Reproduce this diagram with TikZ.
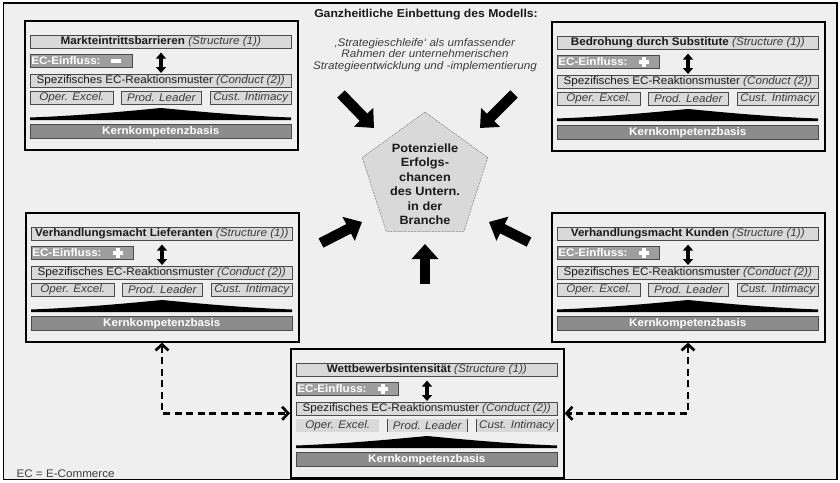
\documentclass[tikz,border=0pt]{standalone}
\usepackage{fontspec}
\setmainfont{Liberation Sans}[FakeStretch=1.06]
\usetikzlibrary{arrows.meta,shapes.geometric,calc}

\definecolor{paper}{HTML}{EFEFEF}
\definecolor{barlight}{HTML}{D9D9D9}
\definecolor{barmid}{HTML}{9E9E9E}
\definecolor{bardark}{HTML}{8C8C8C}
\definecolor{edge}{HTML}{4A4A4A}
\definecolor{ink}{HTML}{1A1A1A}
\definecolor{softink}{HTML}{3C3C3C}

\tikzset{
  panel/.style={draw=black, line width=1.6pt, fill=paper, anchor=north west,
    minimum width=273pt, minimum height=129pt, inner sep=0pt},
  titlebar/.style={draw=edge, line width=0.6pt, fill=barlight, anchor=north west,
    minimum width=261pt, minimum height=13pt, inner sep=0pt, text=ink,
    font=\fontsize{11}{12}\selectfont},
  ecbar/.style={draw=edge, line width=0.6pt, fill=barmid, anchor=north west,
    text width=100pt, align=left, inner xsep=1pt, inner ysep=0pt,
    minimum height=13pt, text=white, font=\bfseries\fontsize{11}{12}\selectfont},
  triobox/.style={draw=edge, line width=0.6pt, fill=barlight, anchor=north west,
    minimum height=13pt, inner sep=0pt, text=softink,
    font=\itshape\fontsize{11}{12}\selectfont},
  triolight/.style={fill=barlight, anchor=north west,
    minimum height=13pt, inner sep=0pt, text=softink,
    font=\itshape\fontsize{11}{12}\selectfont},
  kernbar/.style={draw=edge, line width=0.6pt, fill=bardark, anchor=north west,
    minimum width=261pt, minimum height=14pt, inner sep=0pt, text=white,
    font=\bfseries\fontsize{11}{12}\selectfont},
  updown/.style={line width=3.2pt, black,
    {Triangle[length=6pt,width=10pt]}-{Triangle[length=6pt,width=10pt]},
    shorten <=4pt, shorten >=1pt},
  blockarrow/.style={line width=10.5pt, black, -{Triangle[length=15pt,width=26pt]}},
  dashlink/.style={line width=2.7pt, black, dash pattern=on 7pt off 4.5pt,
    {Straight Barb[length=6pt,width=13pt]}-{Straight Barb[length=6pt,width=13pt]}},
}

% white sign inside the EC bar of a panel
\newcommand{\ecminus}{\fill[white] (87,39) rectangle (97,42.5);}
\newcommand{\ecplus}{%
  \fill[white] (88,39) rectangle (98,42.5);
  \fill[white] (91.25,35.75) rectangle (94.75,45.75);}

% one competitive force panel: name, x, y, force, sign, style of the three strategy boxes
\newcommand{\forcepanel}[6]{%
  \begin{scope}[shift={(#2,#3)}]
    \node[panel] (#1) at (0,0) {};
    \node[titlebar] (#1-title) at (6,15)
      {\textbf{#4} \textit{\color{softink}(Structure (1))}};
    \node[ecbar] (#1-ec) at (6,34) {EC-Einfluss:};
    #5
    \node[titlebar] (#1-spez) at (6,54)
      {Spezifisches EC-Reaktionsmuster \textit{\color{softink}(Conduct (2))}};
    \node[#6, minimum width=83pt] (#1-oe) at (6,71) {Oper. Excel.};
    \node[#6, minimum width=80pt] (#1-pl) at (97,71) {Prod. Leader};
    \node[#6, minimum width=81pt] (#1-ci) at (186,71) {Cust. Intimacy};
    \fill[black] (6,100) -- (6,97.5)
      .. controls (60,95.5) and (105,91) .. (137,88)
      .. controls (169,91) and (214,95.5) .. (267,97.5) -- (267,100) -- cycle;
    \node[kernbar] (#1-kern) at (6,104) {Kernkompetenzbasis};
    \coordinate (#1-axis) at (137,0);
    \draw[updown] (#1-axis |- #1-title.south) -- (#1-axis |- #1-spez.north);
  \end{scope}}

\begin{document}
\begin{tikzpicture}[x=1pt, y=-1pt]
  \useasboundingbox (0,0) rectangle (840,482);
  \fill[white] (0,0) rectangle (840,482);
  \draw[line width=1.8pt, fill=paper] (3.5,3) rectangle (837,479.5);

  % heading and framing text
  \node[font=\bfseries\fontsize{11.5}{13}\selectfont, text=ink] (head) at (426,15)
    {Ganzheitliche Einbettung des Modells:};
  \node[font=\itshape\fontsize{11}{11.3}\selectfont, text=softink, align=center] (loop) at (425,55)
    {‚Strategieschleife‘ als umfassender\\Rahmen der unternehmerischen\\Strategieentwicklung und -implementierung};

  % the five forces
  \forcepanel{markt}{24}{20}{Markteintrittsbarrieren}{\ecminus}{triobox}
  \forcepanel{subst}{551}{21}{Bedrohung durch Substitute}{\ecplus}{triobox}
  \forcepanel{lief}{25}{212}{Verhandlungsmacht Lieferanten}{\ecplus}{triobox}
  \forcepanel{kund}{551}{212}{Verhandlungsmacht Kunden}{\ecplus}{triobox}
  \forcepanel{wett}{290}{348}{Wettbewerbsintensität}{\ecplus}{triolight}
  \draw[edge, line width=0.6pt] (wett-pl.north west) -- (wett-pl.south west)
    (wett-pl.north east) -- (wett-pl.south east)
    (wett-ci.north west) -- (wett-ci.south west)
    (wett-ci.north east) -- (wett-ci.south east)
    (wett-ec.north east) -- (wett-ec.south east);

  % central goal
  \node[regular polygon, regular polygon sides=5, minimum size=132pt, inner sep=0pt,
        fill=barlight, draw=gray, line width=0.5pt, dash pattern=on 2pt off 1pt] (goal) at (425,178) {};
  \node[font=\bfseries\fontsize{12}{14.5}\selectfont, text=ink, align=center] (goaltext) at (425,184)
    {Potenzielle\\Erfolgs-\\chancen\\des Untern.\\in der\\Branche};

  % forces pushing on the goal
  \coordinate (tl-tail) at (341,94);
  \coordinate (tl-tip) at (374,128);
  \coordinate (tr-tail) at (514,94);
  \coordinate (tr-tip) at (480,128);
  \coordinate (ml-tail) at (321,243);
  \coordinate (ml-tip) at (362,222);
  \coordinate (mr-tail) at (529,242);
  \coordinate (mr-tip) at (489,222);
  \coordinate (bt-tail) at (425,284);
  \coordinate (bt-tip) at (425,244);
  \draw[blockarrow] (tl-tail) -- (tl-tip);
  \draw[blockarrow] (tr-tail) -- (tr-tip);
  \draw[blockarrow] (ml-tail) -- (ml-tip);
  \draw[blockarrow] (mr-tail) -- (mr-tip);
  \draw[blockarrow] (bt-tail) -- (bt-tip);

  % feedback links between the bargaining powers and rivalry
  \draw[dashlink] (lief-axis |- lief.south) |- (wett.west);
  \draw[dashlink] (kund-axis |- kund.south) |- (wett.east);

  \node[anchor=west, font=\fontsize{11}{12}\selectfont, text=softink] (legend) at (13,474)
    {EC = E-Commerce};
\end{tikzpicture}
\end{document}
